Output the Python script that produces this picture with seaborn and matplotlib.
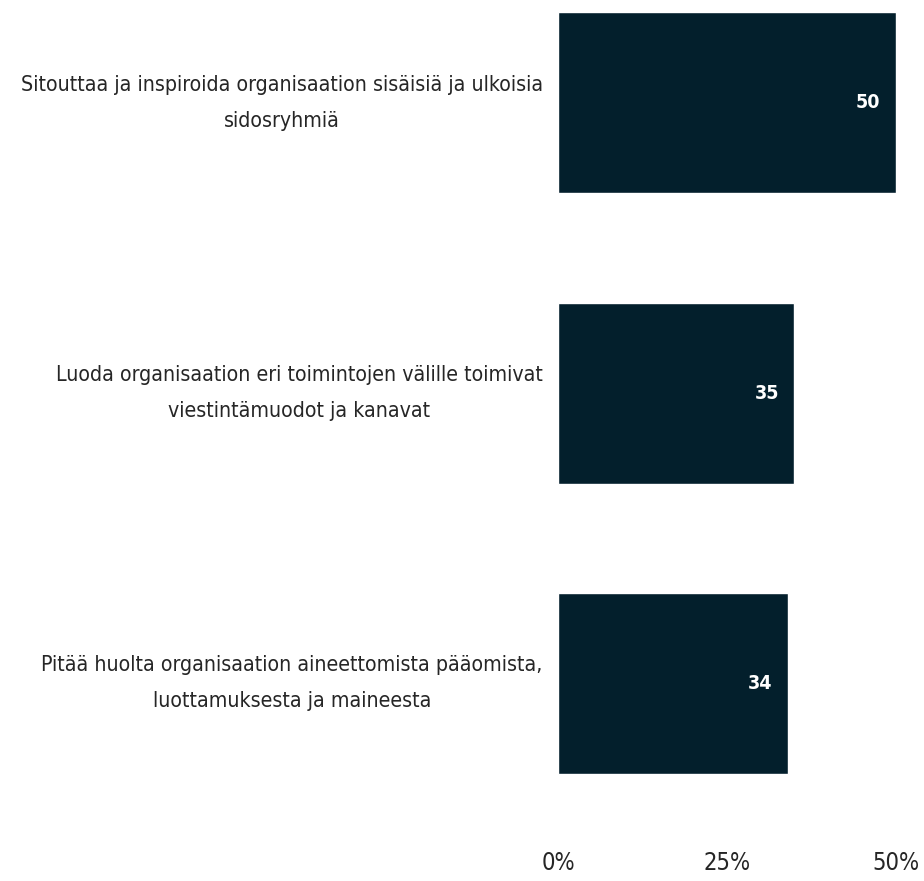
import matplotlib
matplotlib.use("Agg")
import matplotlib.pyplot as plt
import seaborn as sns
import pandas as pd

# Survey categories and their shares (%)
categories = [
    "Sitouttaa ja inspiroida organisaation sisäisiä ja ulkoisia\nsidosryhmiä",
    "Luoda organisaation eri toimintojen välille toimivat\nviestintämuodot ja kanavat",
    "Pitää huolta organisaation aineettomista pääomista,\nluottamuksesta ja maineesta",
]
values = [50, 35, 34]
x_ticks = [0, 25, 50]
x_tick_labels = ["0%", "25%", "50%"]

sns.set_theme(style="white")
plt.rcParams["font.family"] = ["DejaVu Sans"]
plt.rcParams["font.stretch"] = "condensed"

bar_color = "#031f2c"
text_color = "#262626"

df = pd.DataFrame({"category": categories, "value": values})

fig = plt.figure(figsize=(9.24, 8.81), dpi=100)
ax = fig.add_axes([558 / 924, 41 / 881, (895.7 - 558) / 924, 840 / 881])

sns.barplot(data=df, y="category", x="value", orient="h", color=bar_color,
            saturation=1, width=0.623, ax=ax)

ax.set_xlim(0, 50)
ax.set_ylim(2.539, -0.354)
ax.set_xticks(x_ticks)
ax.set_xticklabels(x_tick_labels)
ax.set_xlabel("")
ax.set_ylabel("")
ax.tick_params(axis="x", length=0, pad=8, labelsize=17, labelcolor=text_color)
ax.tick_params(axis="y", length=0, pad=11, labelsize=18, labelcolor=text_color)
for s in ax.spines.values():
    s.set_visible(False)

# Shrink the category labels so the widest one fits the space left of the bars
fig.canvas.draw()
renderer = fig.canvas.get_renderer()
ylabels = ax.get_yticklabels()
widest = max(l.get_window_extent(renderer).width for l in ylabels)
size = 18 * 520 / widest
for lbl in ylabels:
    lbl.set_multialignment("center")
    lbl.set_verticalalignment("center")
    lbl.set_fontsize(size)
    lbl.set_linespacing(2.0)

# Value labels right-aligned just inside each bar end
for i, v in enumerate(values):
    ax.annotate(f"{v}", xy=(v, i), xytext=(-11, 0), textcoords="offset points",
                ha="right", va="center", color="white", fontsize=14,
                fontweight="semibold")

fig.savefig("out.png", dpi=100)
